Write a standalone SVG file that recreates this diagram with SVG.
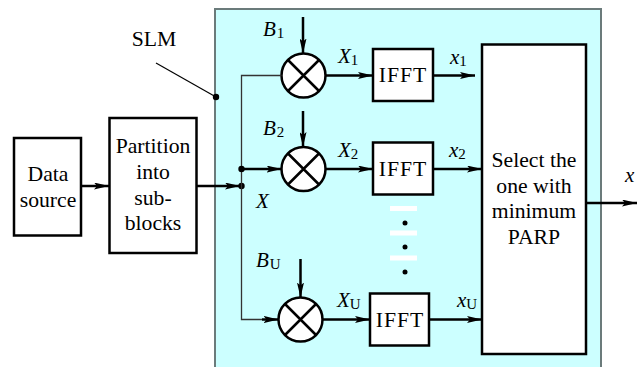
<svg xmlns="http://www.w3.org/2000/svg" width="643" height="367" viewBox="0 0 643 367">
<defs>
<marker id="ah" viewBox="0 0 15 7" refX="15" refY="3.5" markerWidth="15" markerHeight="7" markerUnits="userSpaceOnUse" orient="auto">
<path d="M0,0 L15,3.5 L0,7 L3,3.5 Z" fill="#000"/>
</marker>
</defs>
<style>
.box{fill:#fff;stroke:#000;stroke-width:2.5}
.t{font-family:"Liberation Serif",serif;font-size:21.7px;fill:#000;text-anchor:middle}
.i{font-family:"Liberation Serif",serif;font-size:21px;font-style:italic;fill:#000}
.sub{font-family:"Liberation Serif",serif;font-size:15px;font-style:normal}
.w{stroke:#000;stroke-width:2.5;fill:none}
.thin{stroke:#333;stroke-width:1.3;fill:none}
.mix{fill:#fff;stroke:#000;stroke-width:2.5}
</style>
<rect id="slm-region" x="215" y="9" width="386" height="362" fill="#ccffff" stroke="#6b7b7b" stroke-width="2"/>
<g id="label-slm">
<text class="t" x="154" y="46">SLM</text>
<line x1="156" y1="63" x2="216" y2="97" stroke="#000" stroke-width="1.2"/>
<circle cx="216" cy="97" r="3.2" fill="#000"/>
</g>
<g id="data-source">
<rect class="box" x="14" y="138" width="67" height="97.5"/>
<text class="t" x="48" y="181">Data</text>
<text class="t" x="48" y="207">source</text>
</g>
<g id="partition">
<rect class="box" x="109.5" y="118" width="87" height="135"/>
<text class="t" x="153" y="153">Partition</text>
<text class="t" x="153" y="179">into</text>
<text class="t" x="153" y="205">sub-</text>
<text class="t" x="153" y="230">blocks</text>
</g>
<g id="mixer-1">
<circle class="mix" cx="303.5" cy="75.5" r="22"/>
<path class="w" d="M288,60 L319,91 M319,60 L288,91"/>
</g>
<g id="mixer-2">
<circle class="mix" cx="303.5" cy="169" r="22"/>
<path class="w" d="M288,153.5 L319,184.5 M319,153.5 L288,184.5"/>
</g>
<g id="mixer-u">
<circle class="mix" cx="300.5" cy="319.5" r="22"/>
<path class="w" d="M285,304 L316,335 M316,304 L285,335"/>
</g>
<g id="ifft-1">
<rect class="box" x="373" y="49" width="60" height="52"/>
<text class="t" x="403" y="82" letter-spacing="1">IFFT</text>
</g>
<g id="ifft-2">
<rect class="box" x="373" y="142.5" width="60" height="52"/>
<text class="t" x="403" y="176" letter-spacing="1">IFFT</text>
</g>
<g id="ifft-u">
<rect class="box" x="370" y="293.5" width="59" height="52"/>
<text class="t" x="400" y="327" letter-spacing="1">IFFT</text>
</g>
<g id="select">
<rect class="box" x="482" y="44.5" width="104" height="309.5"/>
<text class="t" x="534" y="167">Select the</text>
<text class="t" x="534" y="193">one with</text>
<text class="t" x="534" y="218">minimum</text>
<text class="t" x="534" y="244">PARP</text>
</g>
<g id="connectors">
<line class="w" x1="81" y1="186" x2="109" y2="186" marker-end="url(#ah)"/>
<line class="w" x1="196" y1="186" x2="240" y2="186" marker-end="url(#ah)"/>
<circle cx="241.5" cy="186" r="3.2" fill="#000"/>
<path class="thin" d="M281.5,75.5 L241.5,75.5 L241.5,319.5 L262,319.5"/>
<line class="w" x1="262" y1="319.5" x2="278.5" y2="319.5" marker-end="url(#ah)"/>
<line class="w" x1="241.5" y1="169" x2="281.5" y2="169" marker-end="url(#ah)"/>
<circle cx="241.5" cy="169" r="3.2" fill="#000"/>
<line class="w" x1="303" y1="17" x2="303" y2="53.5" marker-end="url(#ah)"/>
<line class="w" x1="303" y1="111" x2="303" y2="147" marker-end="url(#ah)"/>
<line class="w" x1="300.5" y1="259" x2="300.5" y2="297.5" marker-end="url(#ah)"/>
<line class="w" x1="325.5" y1="75.5" x2="373" y2="75.5" marker-end="url(#ah)"/>
<line class="w" x1="325.5" y1="169" x2="373" y2="169" marker-end="url(#ah)"/>
<line class="w" x1="322.5" y1="319.5" x2="370" y2="319.5" marker-end="url(#ah)"/>
<line class="w" x1="433" y1="75.5" x2="475" y2="75.5" marker-end="url(#ah)"/>
<line class="w" x1="433" y1="169" x2="482" y2="169" marker-end="url(#ah)"/>
<line class="w" x1="429" y1="319.5" x2="482" y2="319.5" marker-end="url(#ah)"/>
<line class="w" x1="586" y1="203" x2="637" y2="203" marker-end="url(#ah)"/>
</g>
<g id="ellipsis">
<rect x="390" y="206" width="27" height="5" fill="#fff"/>
<rect x="390" y="230.5" width="27" height="5" fill="#fff"/>
<rect x="390" y="255.5" width="27" height="5" fill="#fff"/>
<circle cx="405" cy="223" r="2.5" fill="#000"/>
<circle cx="405" cy="247" r="2.5" fill="#000"/>
<circle cx="405" cy="272" r="2.5" fill="#000"/>
</g>
<g id="labels">
<text class="i" x="263" y="36">B<tspan class="sub" dx="1" dy="2">1</tspan></text>
<text class="i" x="263" y="135">B<tspan class="sub" dx="1" dy="2">2</tspan></text>
<text class="i" x="256" y="267">B<tspan class="sub" dx="1" dy="2">U</tspan></text>
<text class="i" x="256" y="208">X</text>
<text class="i" x="338" y="63">X<tspan class="sub" dx="0" dy="2">1</tspan></text>
<text class="i" x="338" y="157">X<tspan class="sub" dx="0" dy="2">2</tspan></text>
<text class="i" x="337" y="307">X<tspan class="sub" dx="0" dy="2">U</tspan></text>
<text class="i" x="450" y="64">x<tspan class="sub" dx="0" dy="2">1</tspan></text>
<text class="i" x="449" y="157">x<tspan class="sub" dx="0" dy="2">2</tspan></text>
<text class="i" x="457" y="307">x<tspan class="sub" dx="0" dy="2">U</tspan></text>
<text class="i" x="625" y="182">x</text>
</g>
</svg>
